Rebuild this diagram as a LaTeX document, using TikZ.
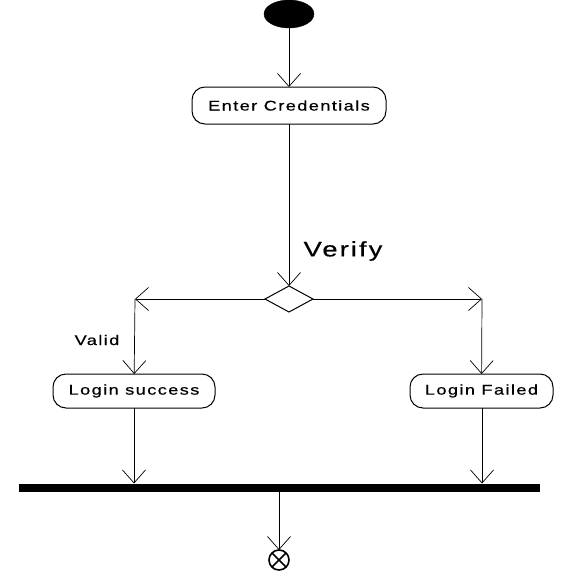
\documentclass[tikz,border=0pt]{standalone}
\usepackage{fontspec}
\setmainfont{Liberation Sans}
\newfontfamily\widesans[FakeStretch=1.3,LetterSpace=10,FakeBold=0.6]{Liberation Sans}
\usetikzlibrary{arrows.meta,shapes.geometric}
\begin{document}
\begin{tikzpicture}[x=1pt,y=-1pt,
  every node/.style={inner sep=0pt,outer sep=0pt},
  flow/.style={draw,line width=0.7pt,-{Straight Barb[length=13pt,width=23pt,line width=0.7pt]}},
  action/.style={draw,line width=1pt,rounded corners=13pt,font=\widesans\fontsize{14}{16}\selectfont},
  lbl/.style={font=\widesans\fontsize{14}{16}\selectfont}]
\useasboundingbox (0,0) rectangle (581,581);
% start
\node[draw,fill=black,ellipse,minimum width=50pt,minimum height=28pt] (start) at (289,14) {};
% actions
\node[action,minimum width=194pt,minimum height=37pt] (enter) at (289,105.5) {Enter Credentials};
\node[action,minimum width=162pt,minimum height=34pt] (ok) at (134,391) {Login success};
\node[action,minimum width=143pt,minimum height=34pt] (fail) at (481.5,391) {Login Failed};
% decision
\node[draw,diamond,aspect=1.85,line width=1pt,minimum width=48pt,minimum height=26pt] (dec) at (289,299) {};
\node[font=\widesans\fontsize{21}{23}\selectfont] (verify) at (343,251) {Verify};
\coordinate (lc) at (135,299);
\coordinate (rc) at (482,299);
\node[lbl] (valid) at (97,340) {Valid};
% join bar and end
\node[fill=black,minimum width=521pt,minimum height=8pt] (bar) at (279.5,487.5) {};
\node[draw,circle,line width=1.6pt,minimum size=20pt] (end) at (279,560) {};
\draw[line width=1.6pt] (end.north east) -- (end.south west) (end.north west) -- (end.south east);
% connectors
\draw[flow] (start) -- (enter);
\draw[flow] (enter) -- (dec);
\draw[flow] (dec.west) -- (lc);
\draw[flow] (lc) -- (ok);
\draw[flow] (dec.east) -- (rc);
\draw[flow] (rc) -- (fail);
\draw[flow] (ok) -- (ok |- bar.north);
\draw[flow] (fail.south -| rc) -- (rc |- bar.north);
\draw[flow] (bar.south -| end) -- (end);
\end{tikzpicture}
\end{document}
